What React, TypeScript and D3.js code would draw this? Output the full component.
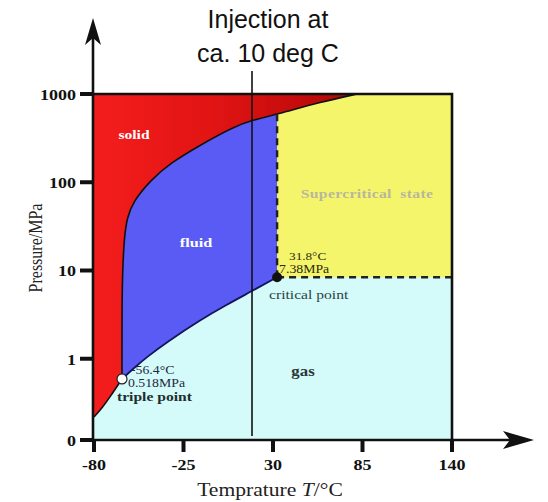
import React from "react";
import * as d3 from "d3";

const tempTicks = [-80, -25, 30, 85, 140];
const pressureTicks = [0, 1, 10, 100, 1000];
// the "0" tick sits one decade-ish below 1 on the log axis
const pFloor = 0.12;

// phase boundaries, [T degC, P MPa]
const meltCurve = [
  [-62.8, 0.59], [-62.8, 4.6], [-62.4, 10.1], [-61.4, 24], [-59.6, 40],
  [-56.0, 60], [-45.6, 104], [-33.3, 164], [-14.9, 263], [5.4, 421],
  [17.1, 505], [32.5, 590], [58.9, 808], [81.6, 1000],
];
const sublCurve = [[-80, 0.219], [-75.1, 0.276], [-70.2, 0.368], [-62.8, 0.59]];
const vapCurve = [
  [-62.8, 0.59], [-54.8, 0.805], [-46.8, 1.07], [-35.1, 1.55], [-14.9, 2.74],
  [1.1, 4.06], [17.1, 5.85], [32.5, 8.4],
];
const triplePoint = [-62.8, 0.59];
const criticalPoint = [32.5, 8.4];
const injectionT = 17.1;

const serif = "'Liberation Serif', 'Times New Roman', serif";
const sans = "'Liberation Sans', Arial, sans-serif";

// the source image is stretched sideways, so serif text gets scaled 1.2 in x
function SText({ x, y, size, weight = "normal", fill = "#111", anchor = "start", ls = 0, children }: any) {
  return (
    <text
      transform={`translate(${x},${y}) scale(1.2,1)`}
      fontFamily={serif}
      fontSize={size}
      fontWeight={weight}
      fill={fill}
      textAnchor={anchor}
      letterSpacing={ls}
    >
      {children}
    </text>
  );
}

export default function App() {
  const x = d3.scaleLinear().domain([-80, 140]).range([94, 452]);
  const y = d3.scaleLog().domain([pFloor, 1000]).range([440, 94]);
  const py = (p: number) => y(Math.max(p, pFloor));

  const curve = d3
    .line<number[]>()
    .x(d => x(d[0]))
    .y(d => py(d[1]))
    .curve(d3.curveBasis);
  const cont = (pts: number[][]) => (curve(pts) as string).replace(/^M/, "L");

  const [Tc, Pc] = criticalPoint;
  const meltTop = meltCurve[meltCurve.length - 1];
  const meltLow = meltCurve.filter(d => d[0] <= Tc);
  const meltHigh = meltCurve.filter(d => d[0] >= Tc);
  const meltAtTc = meltLow[meltLow.length - 1];

  const redPath =
    `M${x(-80)},${y(1000)}L${x(meltTop[0])},${y(1000)}` +
    cont([...meltCurve].reverse()) +
    cont([...sublCurve].reverse()) +
    "Z";
  const bluePath =
    (curve(meltLow) as string) +
    `L${x(Tc)},${py(Pc)}` +
    cont([...vapCurve].reverse()) +
    "Z";
  const yellowPath =
    (curve(meltHigh) as string) +
    `L${x(140)},${y(1000)}L${x(140)},${py(Pc)}L${x(Tc)},${py(Pc)}Z`;

  const x0 = x(-80), x1 = x(140), yb = py(0), yt = y(1000);
  const ax = x0 - 1;

  return (
    <svg width={548} height={502} style={{ position: "absolute", left: 0, top: 0 }}>
      <defs>
        <linearGradient id="solidGrad" gradientUnits="userSpaceOnUse" x1={x0} y1={0} x2={x(meltTop[0])} y2={0}>
          <stop offset="0" stopColor="#f41d1d" />
          <stop offset="0.45" stopColor="#e21414" />
          <stop offset="1" stopColor="#b00606" />
        </linearGradient>
      </defs>

      {/* phases */}
      <rect x={x0} y={yt} width={x1 - x0} height={yb - yt} fill="#d4fafa" />
      <path d={yellowPath} fill="#f5f56c" />
      <path d={redPath} fill="url(#solidGrad)" />
      <path d={bluePath} fill="#5a5af4" />

      {/* boundaries */}
      <path d={curve(meltCurve) as string} fill="none" stroke="#111" strokeWidth={1.6} />
      <path d={curve(sublCurve) as string} fill="none" stroke="#111" strokeWidth={1.6} />
      <path d={curve(vapCurve) as string} fill="none" stroke="#14145a" strokeWidth={1.8} />

      <line x1={x(Tc)} x2={x(Tc)} y1={py(Pc)} y2={py(meltAtTc[1])} stroke="#222" strokeWidth={2.5} strokeDasharray="7 5" />
      <line x1={x(Tc)} x2={x1} y1={py(Pc)} y2={py(Pc)} stroke="#222" strokeWidth={2.5} strokeDasharray="7 5" />

      {/* frame and axes */}
      <path d={`M${x0},${yt}H${x1}V${yb}`} fill="none" stroke="#111" strokeWidth={2.6} />
      <line x1={ax} x2={ax} y1={yb} y2={38} stroke="#111" strokeWidth={2.6} />
      <path d={`M${ax},18L${ax + 8},45L${ax},38L${ax - 8},45Z`} fill="#111" />
      <line x1={ax} x2={512} y1={yb} y2={yb} stroke="#111" strokeWidth={2.6} />
      <path d={`M534,${yb}L503,${yb - 9}L510,${yb}L503,${yb + 9}Z`} fill="#111" />

      {pressureTicks.map(t => (
        <g key={t}>
          <line x1={80} x2={ax} y1={py(t)} y2={py(t)} stroke="#111" strokeWidth={4} />
          <SText x={76} y={py(t) + 6} size={15} weight="bold" anchor="end">{t}</SText>
        </g>
      ))}
      {tempTicks.map(t => (
        <g key={t}>
          <line x1={x(t)} x2={x(t)} y1={yb} y2={yb + 12} stroke="#111" strokeWidth={4} />
          <SText x={x(t)} y={470} size={15} weight="bold" anchor="middle">{t}</SText>
        </g>
      ))}

      <text
        transform="translate(42,248) rotate(-90) scale(1,1.2)"
        fontFamily={serif}
        fontSize={16}
        fill="#222"
        textAnchor="middle"
      >
        Pressure/MPa
      </text>
      <SText x={270} y={496} size={18} anchor="middle" fill="#222">
        Temprature <tspan fontStyle="italic">T</tspan>/°C
      </SText>

      {/* injection line */}
      <line x1={x(injectionT)} x2={x(injectionT)} y1={71} y2={yb - 4} stroke="#111" strokeWidth={1.6} />
      <text x={268} y={28} fontFamily={sans} fontSize={25} fill="#111" textAnchor="middle">Injection at</text>
      <text x={268} y={62} fontFamily={sans} fontSize={25} fill="#111" textAnchor="middle">ca. 10 deg C</text>

      {/* region labels */}
      <SText x={134} y={139} size={13} weight="bold" fill="#fff" anchor="middle">solid</SText>
      <SText x={196} y={247} size={13.5} weight="bold" fill="#fff" anchor="middle">fluid</SText>
      <SText x={367} y={198} size={13} weight="bold" fill="#b7b79c" anchor="middle" ls={0.3}>{"Supercritical\u00a0 state"}</SText>
      <SText x={303} y={376} size={14} weight="bold" fill="#2a3838" anchor="middle">gas</SText>

      {/* critical point */}
      <circle cx={x(Tc)} cy={py(Pc)} r={5} fill="#111" />
      <SText x={x(Tc) + 12} y={py(Pc) - 17} size={11} fill="#2a2a10">31.8°C</SText>
      <SText x={x(Tc) + 2} y={py(Pc) - 4} size={11.5} fill="#2a2a10">7.38MPa</SText>
      <SText x={x(Tc) - 8} y={py(Pc) + 22} size={13} fill="#2a4545">critical point</SText>

      {/* triple point */}
      <circle cx={x(triplePoint[0])} cy={py(triplePoint[1])} r={5} fill="#fff" stroke="#222" strokeWidth={1.2} />
      <SText x={x(triplePoint[0]) + 9} y={py(triplePoint[1]) - 5} size={11.5} fill="#1e2a40">-56.4°C</SText>
      <SText x={x(triplePoint[0]) + 6} y={py(triplePoint[1]) + 8} size={11.5} fill="#1e2a40">0.518MPa</SText>
      <SText x={x(triplePoint[0]) - 5} y={py(triplePoint[1]) + 22} size={13} weight="bold" fill="#1e2e2e">triple point</SText>
    </svg>
  );
}
